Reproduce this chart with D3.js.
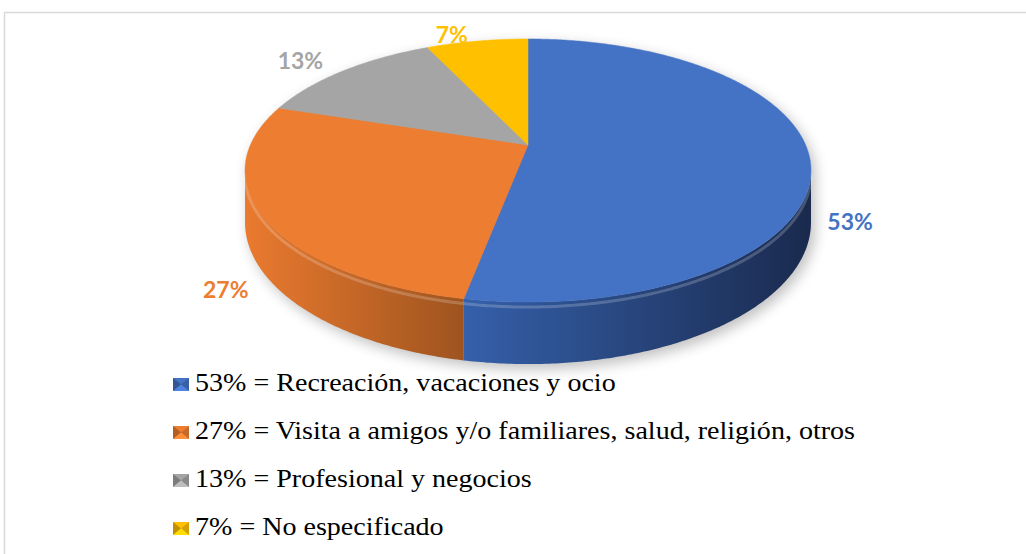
<!DOCTYPE html>
<html>
<head>
<meta charset="utf-8">
<script src="https://cdn.jsdelivr.net/npm/d3@7"></script>
<style>
  body { margin: 0; background: #fff; }
  svg { display: block; }
</style>
</head>
<body>
<svg id="chart" width="1026" height="554"></svg>
<script>
// Chart data
var categories = ['Recreación, vacaciones y ocio',
  'Visita a amigos y/o familiares, salud, religión, otros',
  'Profesional y negocios',
  'No especificado'];
var values = [53, 27, 13, 7];
var colors = ['#4472c4', '#ed7d31', '#a5a5a5', '#ffc000'];
var sideLight = ['#3560aa', '#ea7a2f', '#8f8f8f', '#d9a400'];
var sideDark = ['#1a2a4e', '#9e541f', '#6a6a6a', '#a07a00'];

var svg = d3.select('#chart');
var defs = svg.append('defs');

// frame of the chart area
svg.append('rect')
  .attr('x', 4.5).attr('y', 12.5)
  .attr('width', 1030).attr('height', 560)
  .attr('fill', 'none').attr('stroke', '#d9d9d9').attr('stroke-width', 1.5);

// perspective disc: theta clockwise from 12 o'clock
var cx = 528, cy = 145, R = 277.6, RY = 126.6, K = 0.194, H = 50;
function project(theta, r, drop) {
  var a = Math.sin(theta) * r, b = -Math.cos(theta) * r;
  var s = 1 / (1 - K * b);
  return [cx + R * a * s, cy + (RY * b + drop) * s];
}
function arcPoints(t0, t1, r, drop) {
  var n = Math.max(2, Math.ceil(Math.abs(t1 - t0) / 0.01));
  return d3.range(n + 1).map(function(i) {
    return project(t0 + (t1 - t0) * i / n, r, drop);
  });
}
var line = d3.line();

var pie = d3.pie().sort(null).value(function(d) { return d; });
var arcs = pie(values);

// visible front of the cylinder
var frontStart = Math.acos(-K), frontEnd = 2 * Math.PI - Math.acos(-K);

// soft shadow under the pie
var blur = defs.append('filter').attr('id', 'shadow')
  .attr('x', '-20%').attr('y', '-20%').attr('width', '140%').attr('height', '140%');
blur.append('feGaussianBlur').attr('stdDeviation', 7);
var outline = arcPoints(frontStart, frontEnd, 1, H)
  .concat(arcPoints(frontEnd, frontStart + 2 * Math.PI, 1, 0));
svg.append('path')
  .attr('d', line(outline.map(function(p) { return [p[0] + 4, p[1] + 5]; })) + 'Z')
  .attr('fill', '#000').attr('opacity', 0.25)
  .attr('filter', 'url(#shadow)');

// sides
arcs.forEach(function(d, i) {
  var t0 = Math.max(d.startAngle, frontStart);
  var t1 = Math.min(d.endAngle, frontEnd);
  if (t1 <= t0) return;
  var top = arcPoints(t0, t1, 1, 0);
  var bottom = arcPoints(t1, t0, 1, H);
  var xs = top.map(function(p) { return p[0]; });
  var g = defs.append('linearGradient').attr('id', 'side' + i)
    .attr('gradientUnits', 'userSpaceOnUse')
    .attr('x1', d3.min(xs)).attr('x2', d3.max(xs)).attr('y1', 0).attr('y2', 0);
  g.append('stop').attr('offset', 0).attr('stop-color', sideLight[i]);
  g.append('stop').attr('offset', 1).attr('stop-color', sideDark[i]);
  svg.append('path')
    .attr('d', line(top.concat(bottom)) + 'Z')
    .attr('fill', 'url(#side' + i + ')');
  // rim highlight
  svg.append('path')
    .attr('d', line(arcPoints(t0, t1, 1, 4)))
    .attr('fill', 'none')
    .attr('stroke', '#fff').attr('stroke-opacity', 0.2).attr('stroke-width', 3);
});

// top faces
arcs.forEach(function(d, i) {
  var pts = [[cx, cy]].concat(arcPoints(d.startAngle, d.endAngle, 1, 0));
  svg.append('path')
    .attr('d', line(pts) + 'Z')
    .attr('fill', colors[i])
    .attr('stroke', colors[i]).attr('stroke-width', 0.5);
});

// data labels
var labelShift = [[-17, 10], [23, 0], [-11, 2], [-17, 10]];
arcs.forEach(function(d, i) {
  var mid = (d.startAngle + d.endAngle) / 2;
  var front = -Math.cos(mid) > 0;
  var p = project(mid, 1.2, front ? H : 0);
  svg.append('text')
    .attr('x', p[0] + labelShift[i][0])
    .attr('y', p[1] + labelShift[i][1])
    .attr('text-anchor', 'middle')
    .attr('dominant-baseline', 'central')
    .style('font-family', 'Lato, "Open Sans", sans-serif')
    .style('font-weight', 'bold')
    .style('font-size', '23px')
    .style('fill', colors[i])
    .text(d3.format('d')(values[i]) + '%');
});

// legend
var legendY = d3.scaleBand().domain(d3.range(categories.length))
  .range([366, 558]);
var legend = svg.append('g');
categories.forEach(function(name, i) {
  var y = legendY(i) + 25;
  var mk = legend.append('g').attr('transform', 'translate(173,' + (y - 13) + ')');
  var w = 16, h = 13, c = d3.color(colors[i]);
  mk.append('rect').attr('width', w).attr('height', h).attr('fill', colors[i]);
  mk.append('path').attr('d', 'M0,0L' + w / 2 + ',' + h / 2 + 'L0,' + h + 'Z').attr('fill', c.darker(0.8));
  mk.append('path').attr('d', 'M' + w + ',0L' + w / 2 + ',' + h / 2 + 'L' + w + ',' + h + 'Z').attr('fill', c.darker(0.5));
  mk.append('path').attr('d', 'M0,' + h + 'L' + w / 2 + ',' + h / 2 + 'L' + w + ',' + h + 'Z').attr('fill', c.brighter(0.4));
  legend.append('text')
    .attr('transform', 'translate(195,' + y + ') scale(1.1,1)')
    .attr('font-family', '"Liberation Serif", "Times New Roman", serif')
    .attr('font-size', 25.5)
    .attr('fill', '#000')
    .text(values[i] + '% = ' + name);
});
</script>
</body>
</html>
